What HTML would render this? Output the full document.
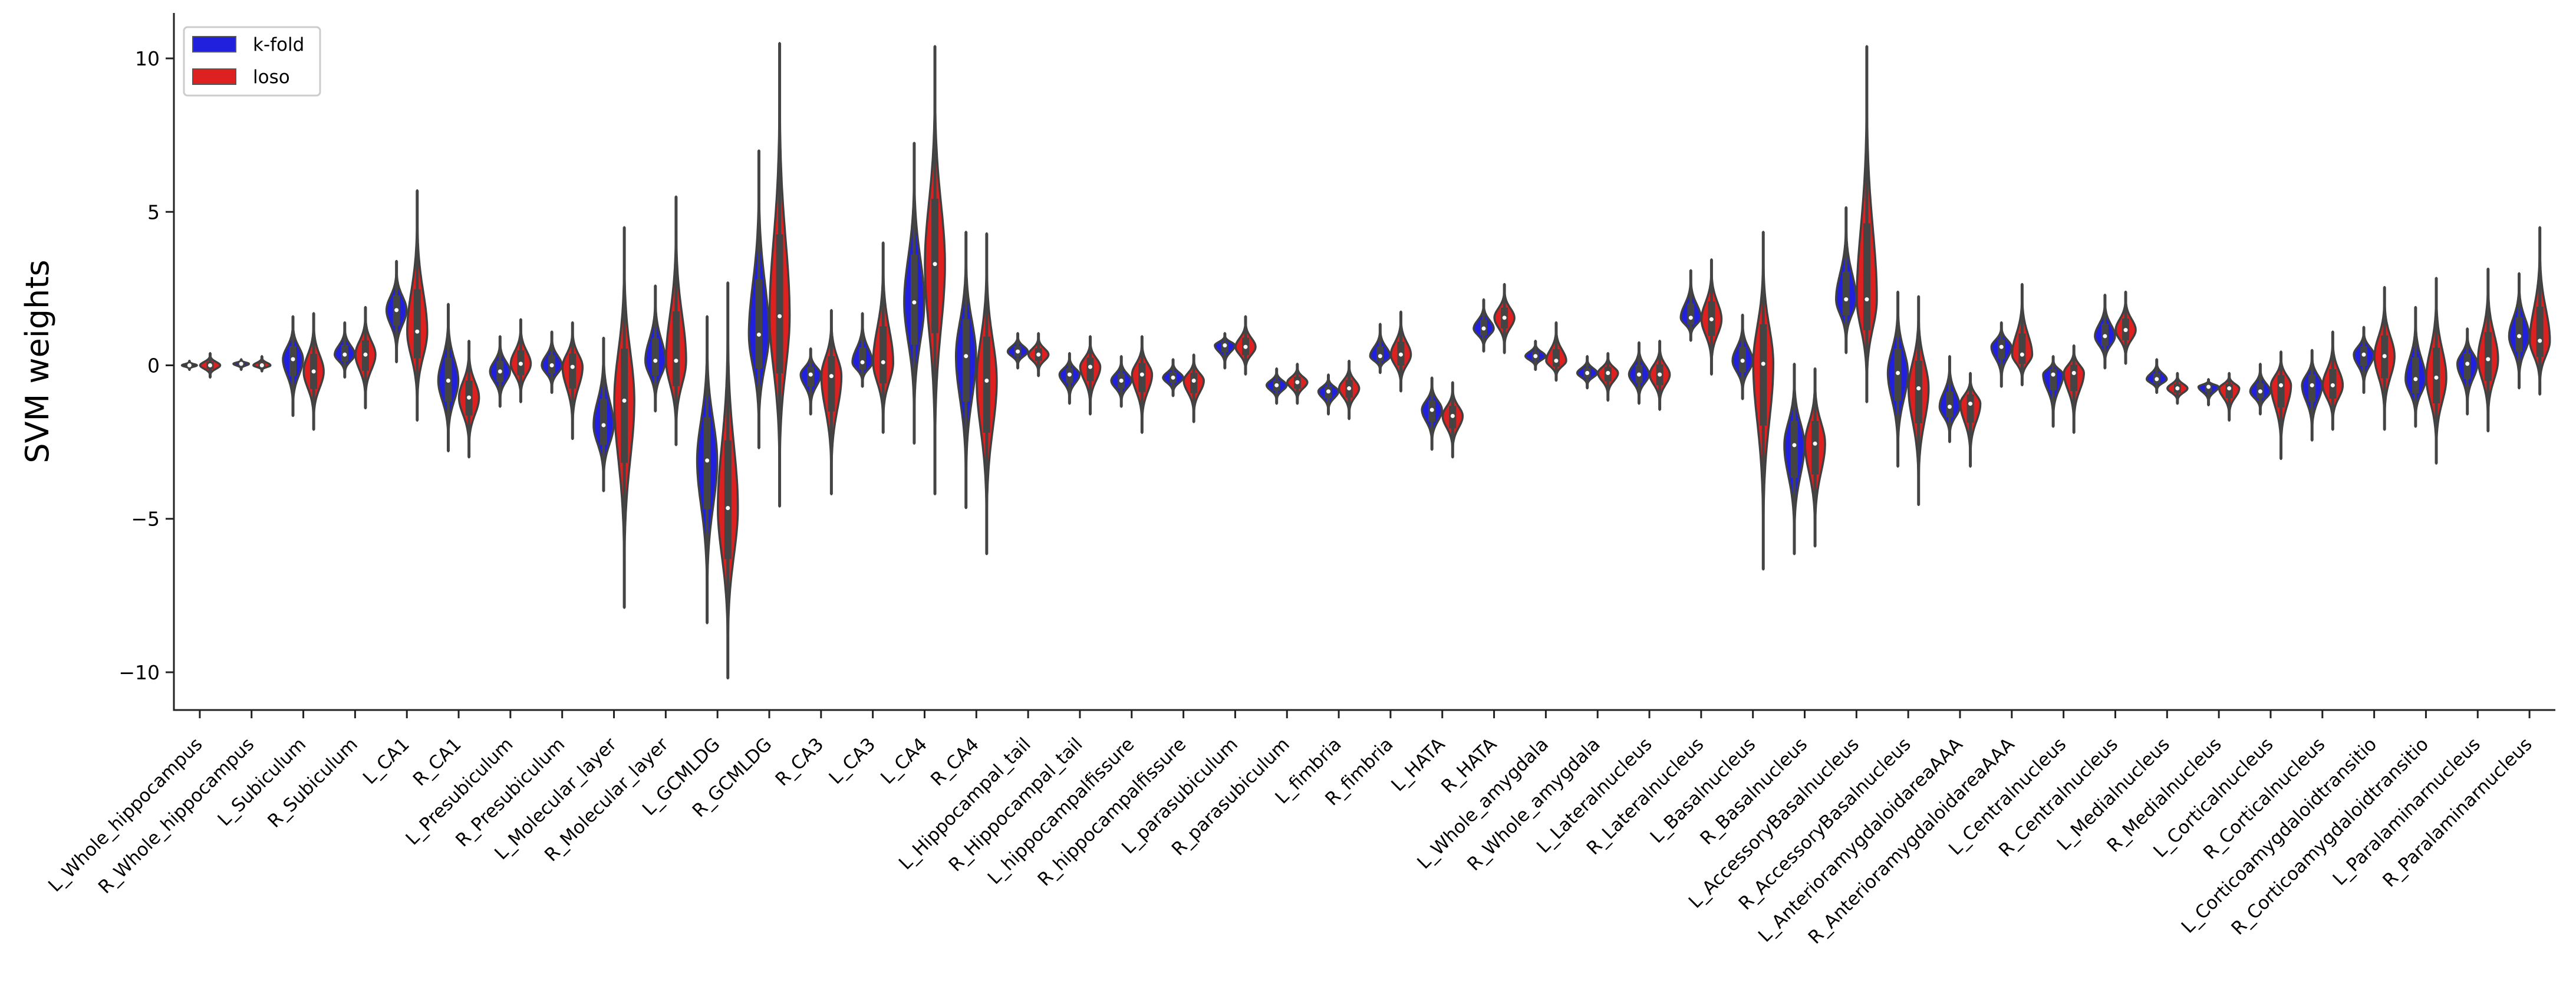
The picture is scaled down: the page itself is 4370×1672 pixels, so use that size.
<!DOCTYPE html>
<html><head><meta charset="utf-8">
<style>
html,body{margin:0;padding:0;background:#fff;}
svg{display:block;font-family:"DejaVu Sans","Liberation Sans",sans-serif;}
</style></head>
<body>
<svg id="chart" width="4370" height="1672" viewBox="0 0 4370 1672" xmlns="http://www.w3.org/2000/svg">
<g id="marks"></g>
<g id="axes"></g>
<text x="0" y="0" transform="translate(82,613) rotate(-90)" text-anchor="middle" font-size="54" fill="#000">SVM weights</text>
<g>
  <rect x="312" y="46" width="231" height="116" rx="6" fill="#fff" stroke="#ccc" stroke-width="3"/>
  <rect x="327" y="62" width="73" height="26" fill="#2020dd" stroke="#555" stroke-width="2"/>
  <text x="429" y="86" font-size="31" fill="#000">k-fold</text>
  <rect x="327" y="117" width="73" height="26" fill="#dd2020" stroke="#555" stroke-width="2"/>
  <text x="429" y="141" font-size="31" fill="#000">loso</text>
</g>
</svg>
<script>
const categories = ["L_Whole_hippocampus","R_Whole_hippocampus","L_Subiculum","R_Subiculum","L_CA1","R_CA1","L_Presubiculum","R_Presubiculum","L_Molecular_layer","R_Molecular_layer","L_GCMLDG","R_GCMLDG","R_CA3","L_CA3","L_CA4","R_CA4","L_Hippocampal_tail","R_Hippocampal_tail","L_hippocampalfissure","R_hippocampalfissure","L_parasubiculum","R_parasubiculum","L_fimbria","R_fimbria","L_HATA","R_HATA","L_Whole_amygdala","R_Whole_amygdala","L_Lateralnucleus","R_Lateralnucleus","L_Basalnucleus","R_Basalnucleus","L_AccessoryBasalnucleus","R_AccessoryBasalnucleus","L_AnterioramygdaloidareaAAA","R_AnterioramygdaloidareaAAA","L_Centralnucleus","R_Centralnucleus","L_Medialnucleus","R_Medialnucleus","L_Corticalnucleus","R_Corticalnucleus","L_Corticoamygdaloidtransitio","R_Corticoamygdaloidtransitio","L_Paralaminarnucleus","R_Paralaminarnucleus"];
const kfoldMin = [-0.15,-0.15,-1.65,-0.4,0.1,-2.8,-1.35,-0.9,-4.1,-1.5,-8.4,-2.7,-1.6,-0.7,-2.55,-4.65,-0.1,-1.25,-1.35,-1.0,-0.1,-1.25,-1.6,-0.25,-2.75,0.45,-0.15,-0.75,-1.25,0.8,-1.1,-6.15,0.4,-3.3,-2.5,-0.7,-2.0,-0.1,-0.9,-1.3,-1.6,-2.45,-0.9,-2.0,-1.6,-0.75];
const kfoldMedian = [0,0.05,0.2,0.35,1.8,-0.5,-0.2,0,-1.95,0.15,-3.1,1.0,-0.3,0.1,2.05,0.3,0.45,-0.3,-0.5,-0.4,0.65,-0.65,-0.85,0.3,-1.45,1.2,0.3,-0.25,-0.3,1.55,0.15,-2.6,2.15,-0.25,-1.35,0.6,-0.3,0.95,-0.45,-0.7,-0.85,-0.65,0.35,-0.45,0.05,0.95];
const kfoldMax = [0.15,0.2,1.6,1.4,3.4,2.0,0.95,1.1,0.9,2.6,1.6,7.0,0.55,1.7,7.25,4.35,1.05,0.4,0.3,0.2,1.05,-0.1,-0.3,1.35,-0.4,2.15,0.8,0.3,0.75,3.1,1.65,0.05,5.15,2.4,0.3,1.4,0.3,2.3,0.2,-0.45,0.05,0.5,1.25,1.9,1.2,3.0];
const losoMin = [-0.4,-0.2,-2.1,-1.4,-1.8,-3.0,-1.2,-2.4,-7.9,-2.6,-10.2,-4.6,-4.2,-2.2,-4.2,-6.15,-0.35,-1.6,-2.2,-1.85,-0.3,-1.25,-1.75,-0.85,-3.0,0.4,-0.5,-1.15,-1.45,-0.3,-6.65,-5.9,-1.2,-4.55,-3.3,-0.65,-2.2,0.05,-1.25,-1.8,-3.05,-2.1,-2.1,-3.2,-2.15,-0.95];
const losoMedian = [0,0,-0.2,0.35,1.1,-1.05,0.05,-0.05,-1.15,0.15,-4.65,1.6,-0.35,0.1,3.3,-0.5,0.35,-0.05,-0.3,-0.5,0.6,-0.55,-0.75,0.35,-1.65,1.55,0.15,-0.25,-0.3,1.5,0.05,-2.55,2.15,-0.75,-1.25,0.35,-0.25,1.15,-0.75,-0.75,-0.65,-0.65,0.3,-0.4,0.2,0.8];
const losoMax = [0.4,0.3,1.7,1.9,5.7,0.8,1.5,1.4,4.5,5.5,2.7,10.5,1.8,4.0,10.4,4.3,1.05,0.95,0.95,0.35,1.6,0.05,0.15,1.75,-0.55,2.65,1.4,0.4,0.8,3.45,4.35,-0.1,10.4,2.25,-0.25,2.65,0.65,2.4,-0.25,-0.25,0.45,1.1,2.55,2.85,3.15,4.5];
const yTicks = [-10,-5,0,5,10];
const yTickLabels = ["\u221210","\u22125","0","5","10"];

const NS="http://www.w3.org/2000/svg";
const L=295,R=4335,T=22,B=1204;
const yMin=-11.23,yMax=11.48;
function yScale(v){return B-(v-yMin)/(yMax-yMin)*(B-T);}
const n=categories.length;
const band=(R-L)/n;
function xScale(i){return L+band*(i+0.5);}
function mk(tag,attrs,parent){const e=document.createElementNS(NS,tag);for(const k in attrs)e.setAttribute(k,attrs[k]);parent.appendChild(e);return e;}
const marks=document.getElementById('marks');
const axes=document.getElementById('axes');

function violin(cx,mn,md,mx,fill,name){
  const g=mk('g',{},marks);
  
  
  const range=mx-mn;
  const hwMax=17*Math.min(1,0.6+range/2);
  const sl=Math.max((md-mn)/3.6,0.03), su=Math.max((mx-md)/3.6,0.03);
  const steps=80, right=[], left=[];
  for(let k=0;k<=steps;k++){
    const v=mn+range*k/steps;
    const s=v<md?sl:su;
    const d=Math.exp(-0.5*Math.pow((v-md)/s,2));
    const w=hwMax*d;
    right.push([cx+w,yScale(v)]);left.push([cx-w,yScale(v)]);
  }
  let dstr='M'+right.map(p=>p[0].toFixed(1)+','+p[1].toFixed(1)).join(' L');
  dstr+=' L'+left.reverse().map(p=>p[0].toFixed(1)+','+p[1].toFixed(1)).join(' L')+' Z';
  const body=mk('path',{d:dstr,fill:fill,stroke:'#404040','stroke-width':3.5,'stroke-linejoin':'round'},g);
  
  
  const wh=mk('line',{x1:cx,x2:cx,y1:yScale(mn),y2:yScale(mx),stroke:'#444','stroke-width':5},g);
  
  
  const q1=md-0.3*(md-mn), q3=md+0.3*(mx-md);
  const bx=mk('rect',{x:cx-6,y:yScale(q3),width:12,height:Math.max(2,yScale(q1)-yScale(q3)),fill:'#444'},g);
  
  
  const dot=mk('circle',{cx:cx,cy:yScale(md),r:3.5,fill:'#fff'},g);
  
  
}
const off=band*0.2;
for(let i=0;i<n;i++){
  violin(xScale(i)-off,kfoldMin[i],kfoldMedian[i],kfoldMax[i],'#2020dd','violin-kfold-'+categories[i]);
  violin(xScale(i)+off,losoMin[i],losoMedian[i],losoMax[i],'#dd2020','violin-loso-'+categories[i]);
}
const ls=mk('line',{x1:L,x2:L,y1:T,y2:B+1.5,stroke:'#222','stroke-width':3},axes);


const bs=mk('line',{x1:L-1.5,x2:R,y1:B,y2:B,stroke:'#222','stroke-width':3},axes);


yTicks.forEach((t,j)=>{
  const y=yScale(t);
  const tk=mk('line',{x1:L-14,x2:L,y1:y,y2:y,stroke:'#222','stroke-width':3},axes);
  
  
  const tx=mk('text',{x:L-24,y:y+12,'text-anchor':'end','font-size':33,fill:'#000'},axes);
  tx.textContent=yTickLabels[j];
  
  
});
categories.forEach((c,i)=>{
  const x=xScale(i);
  const tk=mk('line',{x1:x,x2:x,y1:B,y2:B+14,stroke:'#222','stroke-width':3},axes);
  
  
  const ax=x+6, ay=1264;
  const tx=mk('text',{x:ax,y:ay,'text-anchor':'end','font-size':31,fill:'#000',transform:'rotate(-45 '+ax+' '+ay+')'},axes);
  tx.textContent=c;
  
  
});
</script>
</body></html>
